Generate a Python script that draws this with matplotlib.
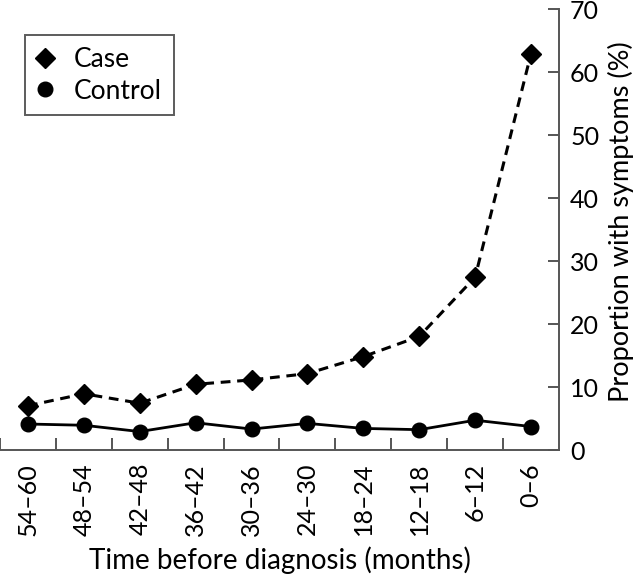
import matplotlib
matplotlib.use('Agg')
import matplotlib.pyplot as plt
import numpy as np

plt.rcParams['font.family'] = ['Lato', 'DejaVu Sans']

# Data
periods = ['54\u201360', '48\u201354', '42\u201348', '36\u201342', '30\u201336',
           '24\u201330', '18\u201324', '12\u201318', '6\u201312', '0\u20136']
case = [7.1, 9.0, 7.5, 10.5, 11.2, 12.2, 14.9, 18.1, 27.5, 63.0]
control = [4.2, 4.0, 3.0, 4.4, 3.4, 4.3, 3.5, 3.3, 4.8, 3.8]
y_ticks = [0, 10, 20, 30, 40, 50, 60, 70]

fig = plt.figure(figsize=(6.4, 5.82), dpi=100)
ax = fig.add_axes([0.0, 0.226, 0.8734, 0.7577])

x = np.arange(len(periods))
ax.plot(x, case, color='black', linestyle=(0, (3.2, 2.2)), linewidth=2.2,
        marker='D', markersize=10, label='Case')
ax.plot(x, control, color='black', linestyle='-', linewidth=2.0,
        marker='o', markersize=10.5, label='Control')

ax.set_xlim(-0.5, len(periods) - 0.5)
ax.set_ylim(0, 70)

# spines: only bottom and right
for side in ['left', 'top']:
    ax.spines[side].set_visible(False)
for side in ['bottom', 'right']:
    ax.spines[side].set_color('#555555')
    ax.spines[side].set_linewidth(1.4)

ax.yaxis.tick_right()
ax.yaxis.set_label_position('right')
ax.set_yticks(y_ticks)
ax.tick_params(axis='y', direction='in', length=8, width=1.4, color='#555555',
               labelsize=18, pad=8)

ax.set_xticks(x)
ax.set_xticklabels(periods, rotation=90, fontsize=18)
ax.set_xticks(np.arange(-0.5, len(periods) - 0.5, 1), minor=True)
ax.tick_params(axis='x', which='major', length=0, pad=9)
ax.tick_params(axis='x', which='minor', direction='in', length=8.5, width=1.4,
               color='#555555')

ax.set_xlabel('Time before diagnosis (months)', fontsize=20, labelpad=8)
ax.set_ylabel('Proportion with symptoms (%)', fontsize=19.5, labelpad=6, y=0.52)

leg = ax.legend(loc='upper left', bbox_to_anchor=(0.045, 0.942), fontsize=19,
                frameon=True, fancybox=False, handlelength=0.6,
                handletextpad=0.8, borderpad=0.45, labelspacing=0.25,
                borderaxespad=0)
leg.get_frame().set_edgecolor('#333333')
leg.get_frame().set_linewidth(1.4)
for h in leg.legend_handles:
    h.set_linestyle('none')

fig.savefig('out.png', dpi=100)
